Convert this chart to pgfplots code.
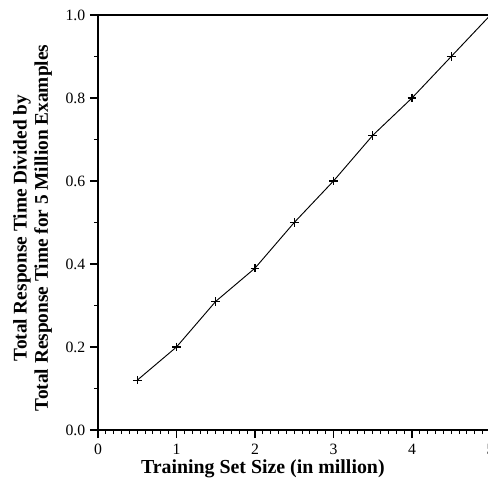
\documentclass[border=0pt]{standalone}
\usepackage{fontspec}
\setmainfont{Liberation Serif}
\usepackage{pgfplots}
\pgfplotsset{compat=1.18}
\begin{document}
\begin{tikzpicture}
\begin{axis}[
  name=ax,
  anchor=origin, at={(0,0)},
  x=58.875pt, y=311.25pt,
  xmin=0, xmax=5, ymin=0, ymax=1,
  scale only axis,
  axis line style={line width=0.9pt},
  xtick={0,1,2,3,4,5},
  ytick={0,0.2,0.4,0.6,0.8,1.0},
  minor x tick num=9,
  minor y tick num=1,
  xtick pos=bottom, ytick pos=left,
  tick align=outside,
  major tick length=6pt,
  minor tick length=3pt,
  every tick/.style={black, line width=0.8pt},
  yticklabel style={/pgf/number format/.cd, fixed, fixed zerofill, precision=1},
  /pgf/number format/assume math mode=true,
  ticklabel style={font=\fontsize{11.8}{13}\selectfont},
  xticklabel style={yshift=-1pt},
  xlabel={\textbf{Training Set Size (in million)}},
  xlabel style={font=\fontsize{14.9}{16}\selectfont, at={(axis description cs:0.42,0)}, anchor=north, yshift=-19pt},
  ylabel={\textbf{Total Response Time Divided by}\\\textbf{Total Response Time for 5 Million Examples}},
  ylabel style={font=\fontsize{14.5}{16}\selectfont, align=center, at={(axis description cs:0,0.487)}, anchor=south, yshift=31pt},
]
\addplot[black, line width=0.7pt, mark=+, mark size=3.2pt, mark options={line width=0.9pt}] coordinates {
(0.5,0.12) (1,0.2) (1.5,0.31) (2,0.39) (2.5,0.5) (3,0.6) (3.5,0.71) (4,0.8) (4.5,0.9) (5,1.0)
};
\end{axis}
\pgfresetboundingbox
\path[use as bounding box] (-73.5pt,-44.25pt) rectangle (292.5pt,322.5pt);
\end{tikzpicture}
\end{document}
